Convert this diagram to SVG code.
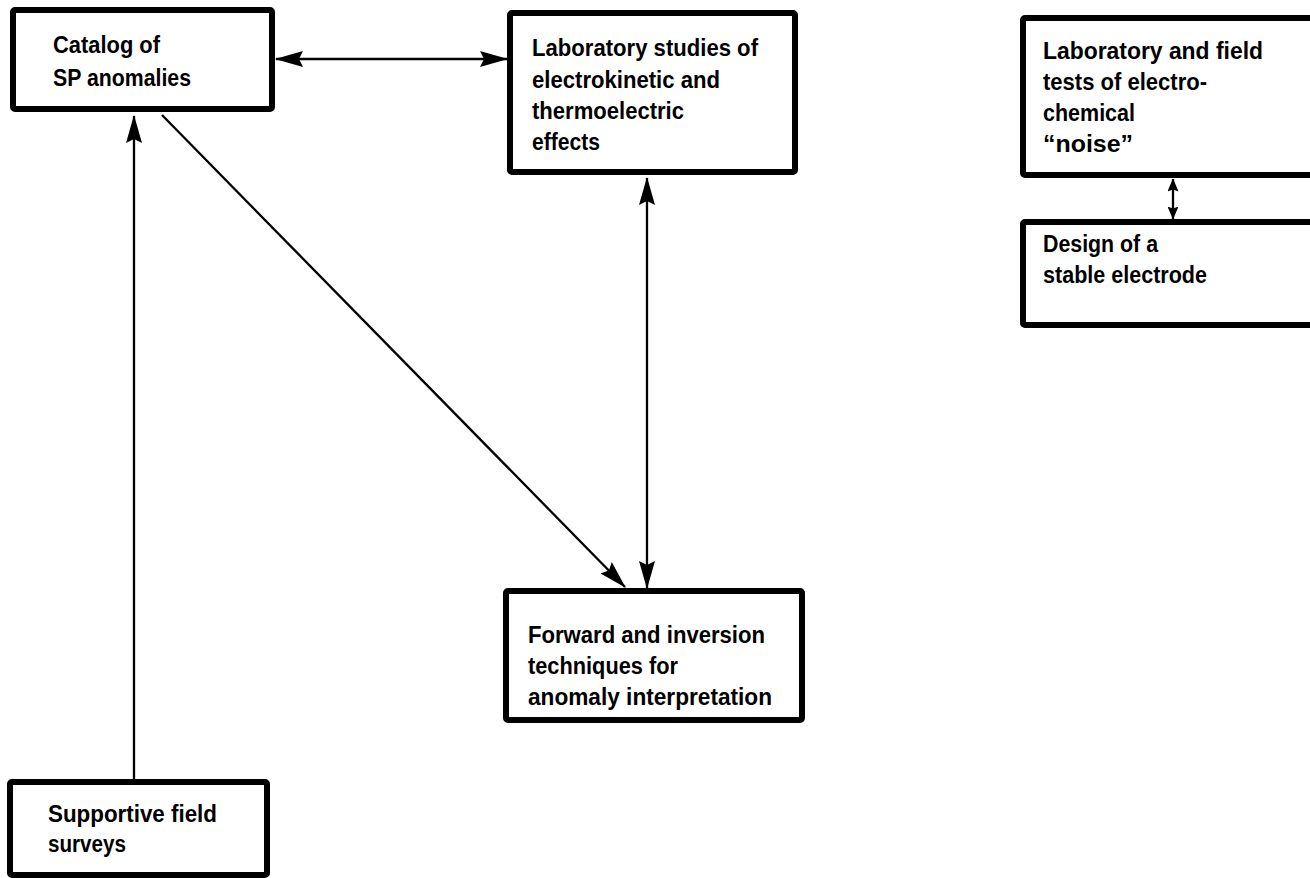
<svg xmlns="http://www.w3.org/2000/svg" width="1310" height="878" viewBox="0 0 1310 878">
  <style>
    .box { fill: #ffffff; stroke: #000000; stroke-width: 6; stroke-linejoin: round; }
    .lbl { font-family: "Liberation Sans", Arial, sans-serif; font-weight: bold; font-size: 23px; fill: #000000; }
    .con { fill: none; stroke: #000000; stroke-width: 2.3; }
  </style>
  <defs>
    <marker id="head" viewBox="0 0 28 16" markerWidth="28" markerHeight="16" refX="27" refY="8" orient="auto-start-reverse" markerUnits="userSpaceOnUse">
      <path d="M0,0 L28,8 L0,16 L4,8 Z" fill="#000000"/>
    </marker>
    <marker id="headSmall" viewBox="0 0 13 11" markerWidth="13" markerHeight="11" refX="12.5" refY="5.5" orient="auto-start-reverse" markerUnits="userSpaceOnUse">
      <path d="M0,0 L13,5.5 L0,11 L2,5.5 Z" fill="#000000"/>
    </marker>
  </defs>

  <rect width="1310" height="878" fill="#ffffff"/>

  <g id="connectors">
    <line class="con" x1="276" y1="59" x2="507" y2="59" marker-start="url(#head)" marker-end="url(#head)"/>
    <line class="con" x1="134" y1="779" x2="134" y2="116" marker-end="url(#head)"/>
    <line class="con" x1="162" y1="115" x2="625" y2="587" marker-end="url(#head)"/>
    <line class="con" x1="647" y1="178" x2="647" y2="588" marker-start="url(#head)" marker-end="url(#head)"/>
    <line class="con" x1="1173" y1="179" x2="1173" y2="219" marker-start="url(#headSmall)" marker-end="url(#headSmall)"/>
  </g>

  <g id="catalog">
    <rect class="box" x="13" y="10" width="259" height="99" rx="2"/>
    <text class="lbl" x="53" y="53" textLength="107" lengthAdjust="spacingAndGlyphs">Catalog of</text>
    <text class="lbl" x="53" y="86" textLength="138" lengthAdjust="spacingAndGlyphs">SP anomalies</text>
  </g>

  <g id="lab-studies">
    <rect class="box" x="510" y="13" width="285" height="159" rx="2"/>
    <text class="lbl" x="532" y="56" textLength="226" lengthAdjust="spacingAndGlyphs">Laboratory studies of</text>
    <text class="lbl" x="532" y="88" textLength="188" lengthAdjust="spacingAndGlyphs">electrokinetic and</text>
    <text class="lbl" x="532" y="119" textLength="152" lengthAdjust="spacingAndGlyphs">thermoelectric</text>
    <text class="lbl" x="532" y="150" textLength="68" lengthAdjust="spacingAndGlyphs">effects</text>
  </g>

  <g id="noise-tests">
    <rect class="box" x="1023" y="18" width="295" height="157" rx="2"/>
    <text class="lbl" x="1043" y="59" textLength="220" lengthAdjust="spacingAndGlyphs">Laboratory and field</text>
    <text class="lbl" x="1043" y="90" textLength="164" lengthAdjust="spacingAndGlyphs">tests of electro-</text>
    <text class="lbl" x="1043" y="121" textLength="92" lengthAdjust="spacingAndGlyphs">chemical</text>
    <text class="lbl" x="1043" y="152" textLength="90" lengthAdjust="spacingAndGlyphs">“noise”</text>
  </g>

  <g id="electrode">
    <rect class="box" x="1023" y="222" width="295" height="103" rx="2"/>
    <text class="lbl" x="1043" y="252" textLength="115" lengthAdjust="spacingAndGlyphs">Design of a</text>
    <text class="lbl" x="1043" y="283" textLength="164" lengthAdjust="spacingAndGlyphs">stable electrode</text>
  </g>

  <g id="forward-inversion">
    <rect class="box" x="506" y="591" width="296" height="129" rx="2"/>
    <text class="lbl" x="528" y="643" textLength="237" lengthAdjust="spacingAndGlyphs">Forward and inversion</text>
    <text class="lbl" x="528" y="674" textLength="150" lengthAdjust="spacingAndGlyphs">techniques for</text>
    <text class="lbl" x="528" y="705" textLength="244" lengthAdjust="spacingAndGlyphs">anomaly interpretation</text>
  </g>

  <g id="field-surveys">
    <rect class="box" x="10" y="782" width="257" height="93" rx="2"/>
    <text class="lbl" x="48" y="822" textLength="169" lengthAdjust="spacingAndGlyphs">Supportive field</text>
    <text class="lbl" x="48" y="852" textLength="78" lengthAdjust="spacingAndGlyphs">surveys</text>
  </g>
</svg>
